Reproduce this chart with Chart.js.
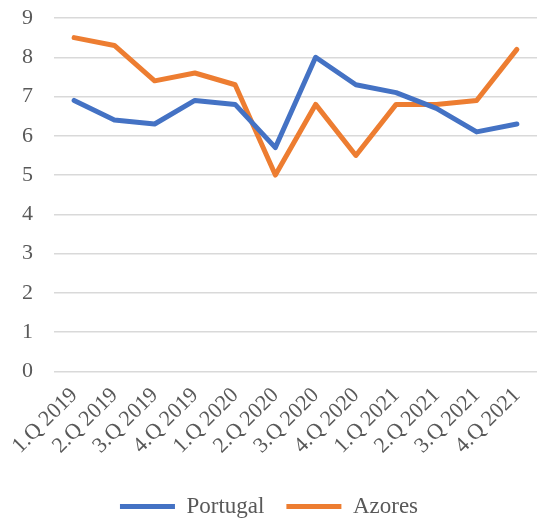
<!DOCTYPE html>
<html>
<head>
<meta charset="utf-8">
<script src="https://cdn.jsdelivr.net/npm/chart.js@4/dist/chart.umd.min.js"></script>
<style>
    html, body { margin: 0; padding: 0; background: #fff; }
    #wrap { width: 537px; height: 521px; }
</style>
</head>
<body>
<div id="wrap"><canvas id="lineChart"></canvas></div>
<script>
const quarters = [
    '1.Q 2019', '2.Q 2019', '3.Q 2019', '4.Q 2019',
    '1.Q 2020', '2.Q 2020', '3.Q 2020', '4.Q 2020',
    '1.Q 2021', '2.Q 2021', '3.Q 2021', '4.Q 2021'
];
const portugal = [6.9, 6.4, 6.3, 6.9, 6.8, 5.7, 8.0, 7.3, 7.1, 6.7, 6.1, 6.3];
const azores = [8.5, 8.3, 7.4, 7.6, 7.3, 5.0, 6.8, 5.5, 6.8, 6.8, 6.9, 8.2];
const yTicks = [0, 1, 2, 3, 4, 5, 6, 7, 8, 9];

const FONT = "'Liberation Serif', 'Times New Roman', serif";
const TEXT = '#595959';
const BLUE = '#4472C4';
const ORANGE = '#ED7D31';

const ctx = document.getElementById('lineChart').getContext('2d');
new Chart(ctx, {
    type: 'line',
    data: {
        labels: quarters,
        datasets: [
            { label: 'Portugal', data: portugal, borderColor: BLUE, backgroundColor: BLUE,
              pointBorderColor: BLUE, pointBackgroundColor: BLUE, pointBorderWidth: 5 },
            { label: 'Azores', data: azores, borderColor: ORANGE, backgroundColor: ORANGE,
              pointBorderColor: ORANGE, pointBackgroundColor: ORANGE, pointBorderWidth: 5 }
        ]
    },
    options: {
        responsive: true,
        maintainAspectRatio: false,
        animation: false,
        layout: { padding: { left: 1, right: 0, top: 18, bottom: -7 } },
        elements: {
            line: { borderWidth: 5, tension: 0, borderJoinStyle: 'round', borderCapStyle: 'round' },
            point: { radius: 0, hoverRadius: 0, pointStyle: 'line' }
        },
        plugins: {
            tooltip: { enabled: false },
            legend: {
                position: 'bottom',
                labels: {
                    color: TEXT,
                    font: { family: FONT, size: 23 },
                    usePointStyle: true,
                    pointStyle: 'line',
                    pointStyleWidth: 55,
                    padding: 22
                }
            }
        },
        scales: {
            y: {
                min: 0,
                max: 9,
                afterBuildTicks: axis => { axis.ticks = yTicks.map(v => ({ value: v })); },
                afterFit: scale => { scale.paddingTop = 0; },
                grid: { color: '#d9d9d9', lineWidth: 1.5, drawTicks: false },
                border: { display: false },
                ticks: { color: TEXT, font: { family: FONT, size: 22 }, padding: 21 }
            },
            x: {
                offset: true,
                grid: { display: false },
                border: { display: false },
                // let the first slanted label run under the y labels, as in the original,
                // and leave a little more room above the legend
                afterFit: scale => {
                    scale.paddingLeft = 0;
                    scale.paddingRight = 0;
                    scale.height += 11;
                },
                ticks: {
                    color: TEXT,
                    font: { family: FONT, size: 22 },
                    minRotation: 45,
                    maxRotation: 45,
                    autoSkip: false,
                    padding: 3
                }
            }
        }
    }
});
</script>
</body>
</html>
